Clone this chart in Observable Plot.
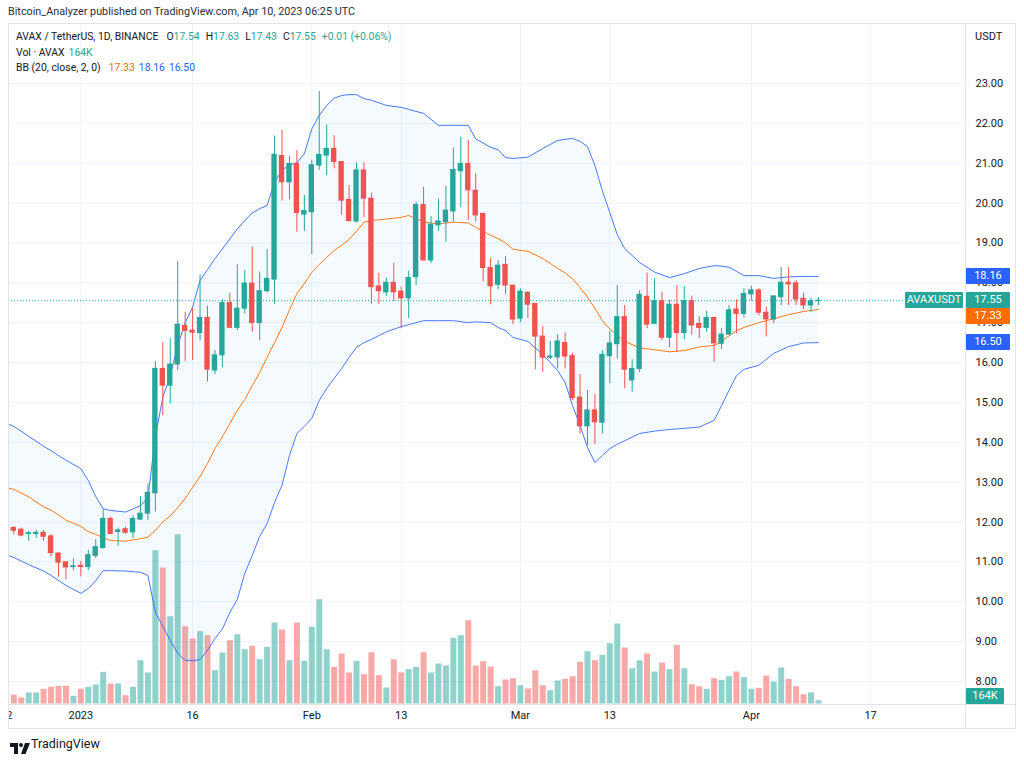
<!DOCTYPE html>
<html>
<head>
<meta charset="utf-8">
<script src="https://cdn.jsdelivr.net/npm/d3@7"></script>
<script src="https://cdn.jsdelivr.net/npm/@observablehq/plot@0.6"></script>
<style>
html, body { margin: 0; padding: 0; background: #fff; }
#wrap { position: relative; width: 1024px; height: 760px; overflow: hidden; background: #fff;
  font-family: Roboto, "Liberation Sans", sans-serif; color: #131722; }
.layer { position: absolute; left: 8px; top: 0; width: 1016px; height: 760px; overflow: hidden; }
.layer svg { overflow: hidden; }
.t { position: absolute; white-space: nowrap; font-size: 11px; line-height: 14px; }
.lg { position: absolute; left: 16px; white-space: nowrap; font-size: 10.4px; line-height: 14px; display: flex; }
.lg span { margin-right: 6px; }
.lg span.first { margin-right: 8px; }
.lg span.tight { margin-right: 4px; }
.box { position: absolute; height: 16px; line-height: 16px; font-size: 11px; color: #fff; text-align: center; border-radius: 1px; }
.ln { position: absolute; background: #e0e3eb; }
</style>
</head>
<body>
<div id="wrap">
  <div class="t" style="left:8px;top:5px;font-size:10.8px;color:#2a2e39;">Bitcoin_Analyzer published on TradingView.com, Apr 10, 2023 06:25 UTC</div>
  <div id="layerA" class="layer"></div>
  <div id="layerB" class="layer"></div>
  <div id="layerC" class="layer"></div>
  <div class="ln" style="left:8px;top:23px;width:1008px;height:1px;"></div>
  <div class="ln" style="left:8px;top:704px;width:1008px;height:1px;"></div>
  <div class="ln" style="left:8px;top:728px;width:1008px;height:1px;"></div>
  <div class="ln" style="left:8px;top:23px;width:1px;height:706px;"></div>
  <div class="ln" style="left:965px;top:23px;width:1px;height:706px;"></div>
  <div class="ln" style="left:1015px;top:23px;width:1px;height:706px;"></div>
  <div id="legend"></div>
  <div id="boxes"></div>
  <div class="t" style="left:975px;top:30px;">USDT</div>
  <div style="position:absolute;left:10px;top:739px;">
    <svg width="20" height="11" viewBox="0 0 20 11"><path d="M0 0H8V11H4V4H0Z" fill="#131722"/><circle cx="11" cy="2" r="2" fill="#131722"/><path d="M15 0H20L15.5 11H11Z" fill="#131722"/></svg>
  </div>
  <div class="t" style="left:31px;top:737px;font-size:12.5px;color:#131722;">TradingView</div>
</div>
<script>
// ---------------- data ----------------
const firstDay = "2022-12-23";
const opens = [11.85,11.81,11.70,11.70,11.73,11.64,11.21,10.99,10.87,10.90,
  10.87,11.15,11.35,12.08,11.75,11.82,11.74,12.06,12.21,12.72,
  15.84,15.42,15.95,16.92,16.80,16.74,17.12,15.80,16.18,17.49,
  16.87,17.35,17.98,16.99,17.79,18.08,21.18,20.52,20.98,19.71,
  19.77,20.94,21.19,21.36,21.03,20.08,19.54,20.82,20.11,17.91,
  17.76,18.00,17.78,17.61,18.14,19.95,18.56,19.44,19.52,19.79,
  20.80,20.98,20.31,19.73,18.37,17.95,18.45,17.93,17.10,17.75,
  17.47,16.65,16.12,16.13,16.49,16.16,15.12,14.40,14.80,14.49,
  16.16,16.46,17.14,15.55,15.84,17.65,16.97,17.54,16.62,17.45,
  16.74,17.54,16.97,16.87,17.12,16.47,16.70,17.33,17.22,17.71,
  17.81,17.25,17.08,17.64,18.00,17.99,17.60,17.43,17.54];
const highs = [11.89,11.85,11.77,11.80,11.79,11.68,11.22,11.00,11.07,11.01,
  11.29,11.56,12.31,12.12,11.85,11.87,12.16,12.64,12.96,16.03,
  16.50,16.60,18.53,17.26,17.35,18.20,17.41,16.30,17.57,17.74,
  18.45,18.31,18.90,18.27,18.83,21.68,21.82,21.17,21.32,20.19,
  21.07,22.80,21.96,21.69,21.03,20.44,21.01,21.01,20.25,18.24,
  18.12,18.49,17.89,18.29,20.02,20.40,19.66,20.10,20.42,21.38,
  21.65,21.57,20.73,19.73,18.61,18.56,18.66,17.93,17.85,17.78,
  17.47,16.90,16.53,16.70,16.74,16.23,15.70,15.30,15.20,16.30,
  16.78,17.93,17.43,16.07,17.80,18.25,18.10,17.76,17.56,17.93,
  17.91,17.66,17.15,17.28,17.12,16.85,17.43,17.57,17.85,17.91,
  17.85,17.39,17.66,18.38,18.38,18.06,17.74,17.62,17.63];
const lows = [11.68,11.63,11.52,11.59,11.52,11.12,10.62,10.55,10.78,10.63,
  10.78,11.08,11.32,11.68,11.39,11.69,11.58,12.04,12.04,12.25,
  14.67,14.96,15.80,16.03,16.05,16.54,15.51,15.70,15.87,16.85,
  16.80,17.22,16.76,16.55,17.75,17.46,20.05,20.09,19.27,19.29,
  18.71,20.82,20.69,20.86,19.70,19.52,19.50,19.63,17.46,17.46,
  17.66,17.53,16.85,17.11,17.93,18.56,18.48,19.29,19.02,19.52,
  19.89,19.56,19.52,18.03,17.45,17.83,17.71,16.95,17.00,17.10,
  15.82,15.76,16.07,15.84,15.84,15.05,14.20,13.92,13.94,14.21,
  15.47,16.09,15.34,15.26,15.75,16.85,16.97,16.55,16.38,16.26,
  16.57,16.68,16.60,16.76,16.01,16.32,16.70,16.72,17.12,17.54,
  17.18,16.65,16.97,17.43,17.43,17.43,17.32,17.26,17.43];
const closes = [11.78,11.66,11.72,11.73,11.63,11.22,10.98,10.86,10.89,10.87,
  11.17,11.37,12.08,11.70,11.79,11.73,12.08,12.21,12.73,15.84,
  15.42,15.95,16.95,16.79,16.75,17.12,15.82,16.18,17.49,16.87,
  17.35,17.98,16.99,17.79,18.10,21.21,20.52,20.98,19.75,19.80,
  20.95,21.21,21.36,21.03,20.06,19.55,20.82,20.11,17.89,17.79,
  18.00,17.76,17.61,18.12,19.95,18.56,19.46,19.54,19.81,20.83,
  20.98,20.32,19.69,18.37,17.91,18.43,17.93,17.08,17.78,17.45,
  16.65,16.12,16.15,16.53,16.15,15.11,14.40,14.80,14.50,16.19,
  16.48,17.14,15.82,15.84,17.70,16.95,17.54,16.62,17.45,16.74,
  17.54,16.93,16.87,17.12,16.48,16.70,17.31,17.22,17.72,17.81,
  17.25,17.08,17.66,18.00,17.96,17.58,17.43,17.54,17.55];
// volume in thousands of AVAX
const volumes = [447,298,547,547,731,830,880,880,383,731,
  830,944,1575,994,994,413,830,2152,1541,7619,
  6759,4339,8414,3842,3231,3593,3395,1655,2535,3146,
  3444,2699,2868,2202,2818,4026,3678,2152,4026,2122,
  3812,5184,2699,1824,2485,1541,2122,1456,2550,1407,
  795,2202,1541,1705,1824,2550,1541,1988,1889,3265,
  3395,4140,1889,2102,1839,860,1193,1257,910,746,
  1655,910,661,1143,1228,1357,2072,2599,2152,2420,
  2997,3976,2783,1754,2152,2485,1590,2038,1705,2917,
  1754,959,860,731,1257,1178,1357,1590,1307,731,
  780,1392,1093,1789,1228,860,462,547,164];
// Bollinger Bands (20, close, 2) read at these day offsets from firstDay
const bandDays = [-1,0,2,4,5,7,9,10,11,12,13,15,17,18,19,20,21,22,23,24,
  25,26,27,28,29,30,31,32,33,34,35,36,37,38,39,40,41,42,43,44,
  45,46,47,48,50,52,53,55,57,59,61,62,64,65,66,67,69,71,73,74,
  75,76,77,78,79,80,81,82,84,86,88,90,92,94,95,96,97,98,100,102,
  104,106,108];
const bandUpper = [14.47,14.40,14.15,13.90,13.79,13.55,13.34,13.04,12.64,12.33,12.29,12.25,12.41,12.60,14.13,15.13,15.67,16.43,17.00,17.39,
  18.06,18.33,18.61,18.85,19.10,19.35,19.56,19.75,19.86,19.94,20.52,20.82,20.96,21.01,21.24,21.86,22.20,22.45,22.63,22.70,
  22.72,22.72,22.62,22.58,22.45,22.40,22.35,22.25,21.95,21.95,21.95,21.61,21.40,21.34,21.14,21.12,21.15,21.37,21.57,21.60,
  21.62,21.55,21.42,20.94,20.31,19.76,19.21,18.86,18.51,18.27,18.13,18.23,18.36,18.43,18.42,18.39,18.29,18.18,18.18,18.11,
  18.15,18.16,18.16];
const bandMiddle = [12.86,12.82,12.63,12.38,12.30,12.05,11.89,11.76,11.69,11.60,11.54,11.52,11.58,11.62,11.79,12.00,12.15,12.36,12.59,12.87,
  13.14,13.47,13.84,14.14,14.47,14.80,15.07,15.42,15.75,16.13,16.50,16.88,17.32,17.73,17.98,18.26,18.46,18.64,18.81,18.94,
  19.09,19.29,19.52,19.56,19.60,19.64,19.69,19.52,19.48,19.52,19.50,19.39,19.19,19.11,19.00,18.84,18.79,18.61,18.36,18.25,
  18.10,17.88,17.64,17.36,17.05,16.84,16.68,16.53,16.37,16.32,16.27,16.30,16.39,16.43,16.53,16.67,16.80,16.88,17.00,17.10,
  17.20,17.28,17.33];
const bandLower = [11.18,11.11,10.93,10.77,10.66,10.41,10.21,10.33,10.53,10.78,10.78,10.77,10.74,10.66,9.74,9.38,9.03,8.71,8.53,8.52,
  8.55,8.78,9.08,9.32,9.73,10.06,10.71,11.16,11.64,11.96,12.49,12.92,13.67,14.22,14.40,14.60,15.05,15.35,15.60,15.85,
  16.13,16.38,16.50,16.58,16.77,16.90,16.95,17.05,17.05,17.05,17.00,17.02,17.00,16.88,16.80,16.63,16.53,16.20,15.80,15.50,
  14.92,14.42,13.87,13.49,13.67,13.84,13.95,14.04,14.22,14.28,14.32,14.35,14.38,14.55,14.92,15.30,15.67,15.83,15.93,16.23,
  16.40,16.49,16.50];
const priceTicks = [8,9,10,11,12,13,14,15,16,17,18,19,20,21,22,23];
const timeTickDates = ["2022-12-22","2023-01-01","2023-01-16","2023-02-01","2023-02-13","2023-03-01","2023-03-13","2023-04-01","2023-04-17"];
const timeTickLabels = ["22","2023","16","Feb","13","Mar","13","Apr","17"];
const lastInfo = {open: 17.54, high: 17.63, low: 17.43, close: 17.55, change: "+0.01 (+0.06%)", volume: "164K"};
const bbLast = {basis: 17.33, upper: 18.16, lower: 16.50};

// ---------------- build ----------------
const UP = "#26a69a", DOWN = "#ef5350", BLUE = "#2962ff", ORANGE = "#ff6d00";
const DAY = 864e5;
const day0 = new Date(firstDay + "T00:00:00Z");
const dayAt = (k) => new Date(+day0 + k * DAY);
const candles = opens.map((o, i) => ({
  date: dayAt(i), open: o, high: highs[i], low: lows[i], close: closes[i], volume: volumes[i]
}));
const bands = bandDays.map((k, i) => ({date: dayAt(k), upper: bandUpper[i], middle: bandMiddle[i], lower: bandLower[i]}));
const tickDates = timeTickDates.map(s => new Date(s + "T00:00:00Z"));
const labelMap = new Map(tickDates.map((d, i) => [+d, timeTickLabels[i]]));
const colorOf = d => d.close >= d.open ? UP : DOWN;

const W = 1016, H = 760;
const MR = 59, MT = 23, MB = 56;
const xDomain = [dayAt(-0.7114), dayAt(127.74)];
const yDomain = [7.423, 24.504];

const plotA = Plot.plot({
  width: W, height: H, marginLeft: 0, marginRight: MR, marginTop: MT, marginBottom: MB,
  style: {background: "none", fontFamily: "Roboto, sans-serif", fontSize: "11px", color: "#131722", overflow: "hidden"},
  x: {type: "utc", domain: xDomain, ticks: tickDates, tickFormat: d => labelMap.get(+d), tickSize: 0, tickPadding: 7, label: null},
  y: {domain: yDomain, axis: "right", ticks: priceTicks, tickFormat: d => d.toFixed(2), tickSize: 0, tickPadding: 10, label: null},
  marks: [
    Plot.ruleY(priceTicks, {stroke: "#f0f3fa", strokeWidth: 1}),
    Plot.ruleX(tickDates, {stroke: "#f0f3fa", strokeWidth: 1})
  ]
});
document.getElementById("layerA").appendChild(plotA);

const plotB = Plot.plot({
  width: W, height: H, marginLeft: 0, marginRight: MR, marginTop: MT, marginBottom: H - 703.5,
  style: {background: "none", overflow: "hidden"},
  x: {type: "utc", domain: xDomain, axis: null},
  y: {domain: [0, 680.5 * 49.7], axis: null},
  color: {type: "identity"},
  marks: [
    Plot.ruleX(candles, {x: "date", y1: 0, y2: "volume", stroke: colorOf, strokeOpacity: 0.5, strokeWidth: 6})
  ]
});
document.getElementById("layerB").appendChild(plotB);

const halfBody = 0.36 * DAY;
const plotC = Plot.plot({
  width: W, height: H, marginLeft: 0, marginRight: MR, marginTop: MT, marginBottom: MB,
  style: {background: "none", overflow: "hidden"},
  x: {type: "utc", domain: xDomain, axis: null},
  y: {domain: yDomain, axis: null},
  color: {type: "identity"},
  marks: [
    Plot.areaY(bands, {x: "date", y1: "lower", y2: "upper", fill: "#2196f3", fillOpacity: 0.05}),
    Plot.lineY(bands, {x: "date", y: "upper", stroke: BLUE, strokeWidth: 1, strokeOpacity: 0.85}),
    Plot.lineY(bands, {x: "date", y: "lower", stroke: BLUE, strokeWidth: 1, strokeOpacity: 0.85}),
    Plot.lineY(bands, {x: "date", y: "middle", stroke: ORANGE, strokeWidth: 1, strokeOpacity: 0.9}),
    Plot.ruleY([lastInfo.close], {stroke: UP, strokeWidth: 1, strokeDasharray: "1,2"}),
    Plot.ruleX(candles, {x: "date", y1: "low", y2: "high", stroke: colorOf, strokeWidth: 1}),
    Plot.rect(candles, {
      x1: d => new Date(+d.date - halfBody), x2: d => new Date(+d.date + halfBody),
      y1: "open", y2: "close", fill: colorOf, insetTop: -0.5, insetBottom: -0.5
    })
  ]
});
document.getElementById("layerC").appendChild(plotC);

// ---------------- legend (top-left) ----------------
const legend = document.getElementById("legend");
const ink = "#131722";
function addLine(y, groups) {
  const div = document.createElement("div");
  div.className = "lg";
  div.style.top = (y - 7) + "px";
  div.innerHTML = groups.map(([cls, parts]) =>
    `<span class="${cls}">` + parts.map(([txt, col]) => `<span style="color:${col};margin:0">${txt}</span>`).join("") + `</span>`
  ).join("");
  legend.appendChild(div);
}
addLine(37, [
  ["first", [["AVAX / TetherUS, 1D, BINANCE", ink]]],
  ["", [["O", ink], [lastInfo.open.toFixed(2), UP]]],
  ["", [["H", ink], [lastInfo.high.toFixed(2), UP]]],
  ["", [["L", ink], [lastInfo.low.toFixed(2), UP]]],
  ["", [["C", ink], [lastInfo.close.toFixed(2), UP]]],
  ["", [[lastInfo.change, UP]]]
]);
addLine(53, [
  ["tight", [["Vol · AVAX", ink]]],
  ["", [[lastInfo.volume, UP]]]
]);
addLine(68, [
  ["first", [["BB (20, close, 2, 0)", ink]]],
  ["tight", [[bbLast.basis.toFixed(2), ORANGE]]],
  ["tight", [[bbLast.upper.toFixed(2), BLUE]]],
  ["tight", [[bbLast.lower.toFixed(2), BLUE]]]
]);

// ---------------- price-axis labels ----------------
const ys = plotC.scale("y");
const boxesEl = document.getElementById("boxes");
function box(left, width, cy, text, bg) {
  const b = document.createElement("div");
  b.className = "box";
  b.style.left = left + "px";
  b.style.width = width + "px";
  b.style.top = (cy - 8) + "px";
  b.style.background = bg;
  b.textContent = text;
  boxesEl.appendChild(b);
}
const labels = [
  {v: bbLast.upper, bg: BLUE},
  {v: lastInfo.close, bg: UP},
  {v: bbLast.basis, bg: ORANGE},
  {v: bbLast.lower, bg: BLUE}
];
let prevBottom = -Infinity;
for (const l of labels) {
  let cy = ys.apply(l.v);
  if (cy - 8 < prevBottom) cy = prevBottom + 8;
  prevBottom = cy + 8;
  l.cy = cy;
}
for (const l of labels) box(966, 44, l.cy, l.v.toFixed(2), l.bg);
box(905, 58, labels[1].cy, "AVAXUSDT", UP);
box(966, 38, 696, lastInfo.volume, UP);
</script>
</body>
</html>
